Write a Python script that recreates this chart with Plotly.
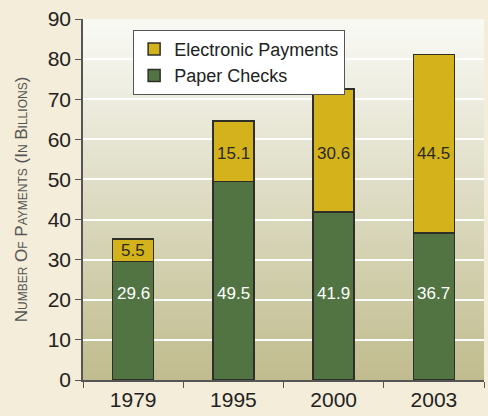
import plotly.graph_objects as go

years = ["1979", "1995", "2000", "2003"]
paper_checks = [29.6, 49.5, 41.9, 36.7]
electronic = [5.5, 15.1, 30.6, 44.5]
y_ticks = [0, 10, 20, 30, 40, 50, 60, 70, 80, 90]

GOLD = "#D4B21B"
GREEN = "#527442"
EDGE = "#2f2f2a"
PAPER_BG = "#F3EDD9"
FONT = "Liberation Sans, Arial, sans-serif"

fig = go.Figure()
fig.add_trace(go.Bar(
    x=years, y=paper_checks, name="Paper Checks",
    marker=dict(color=GREEN, line=dict(color=EDGE, width=1.5)),
    hoverinfo="skip",
))
fig.add_trace(go.Bar(
    x=years, y=electronic, name="Electronic Payments",
    marker=dict(color=GOLD, line=dict(color=EDGE, width=1.5)),
    hoverinfo="skip",
))

# value labels (x given as category index)
PAPER_LABEL_Y = 21.5
ELEC_LABEL_CAP = 56.5
annotations = []
for i, (p, e) in enumerate(zip(paper_checks, electronic)):
    annotations.append(dict(x=i, y=PAPER_LABEL_Y, xref="x", yref="y", text=f"{p}",
                            showarrow=False, font=dict(color="white", size=17, family=FONT)))
    annotations.append(dict(x=i, y=min(p + e / 2, ELEC_LABEL_CAP), xref="x", yref="y",
                            text=f"{e}", showarrow=False,
                            font=dict(color="#2a2a22", size=17, family=FONT)))

# gradient background in plot area
n = 90
top = (250, 250, 246)
bot = (192, 188, 142)
shapes = []
for k in range(n):
    t = (k + 0.5) / n
    c = tuple(round(bot[j] + (top[j] - bot[j]) * t) for j in range(3))
    shapes.append(dict(type="rect", xref="x domain", yref="y domain",
                       x0=0, x1=1, y0=k / n, y1=min((k + 1) / n + 0.002, 1),
                       fillcolor=f"rgb{c}", line=dict(width=0), layer="below"))

fig.update_layout(
    width=488, height=416,
    barmode="stack", bargap=0.59,
    paper_bgcolor=PAPER_BG, plot_bgcolor="rgb(221,219,194)",
    margin=dict(l=83, r=4, t=19, b=36),
    font=dict(family=FONT, color="#222"),
    shapes=shapes,
    annotations=annotations,
    showlegend=True,
    legend=dict(
        x=0.125, y=0.97, xanchor="left", yanchor="top",
        bgcolor="white", bordercolor="#555", borderwidth=1,
        traceorder="reversed", font=dict(size=18, color="#222"),
        itemwidth=30, tracegroupgap=0,
    ),
    xaxis=dict(
        type="category", range=[-0.5, 3.5], tickson="boundaries", ticks="outside",
        ticklen=6, tickcolor="#555", showline=True, linecolor="#555", linewidth=1.5,
        tickfont=dict(size=21, color="#222"), showgrid=False, tickangle=0,
    ),
    yaxis=dict(
        range=[0, 90], tickvals=y_ticks, ticks="outside", ticklen=6,
        tickcolor="#555", showline=True, linecolor="#555", linewidth=1.5,
        tickfont=dict(size=21, color="#222"),
        showgrid=True, gridcolor="white", gridwidth=1.5, zeroline=False,
        title=dict(text="Number Of Payments (In Billions)", standoff=16,
                   font=dict(size=17, color="#555", variant="small-caps")),
    ),
)

fig.write_html(
    "out.html",
    config={"displayModeBar": False},
    post_script="document.body.style.margin='0';document.body.style.background='#F3EDD9';",
)
